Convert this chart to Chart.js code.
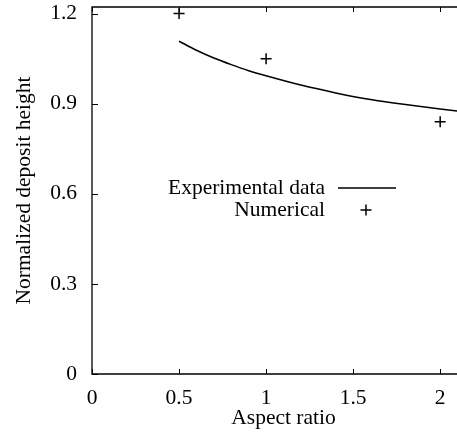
<!DOCTYPE html>
<html>
<head>
<meta charset="utf-8">
<script src="https://cdn.jsdelivr.net/npm/chart.js@4.4.1/dist/chart.umd.min.js"></script>
<style>
  html, body { margin: 0; padding: 0; background: #fff; overflow: hidden; }
  #wrap { width: 482px; height: 441px; }
</style>
</head>
<body>
<div id="wrap"><canvas id="grafico" width="482" height="441"></canvas></div>
<script>
// experimental curve
var expX = [0.5, 0.6, 0.7, 0.8, 0.9, 1.0, 1.2, 1.4, 1.6, 1.8, 2.0, 2.2];
var expY = [1.108, 1.078, 1.052, 1.030, 1.010, 0.993, 0.962, 0.936, 0.914, 0.897, 0.882, 0.869];
// numerical points
var numX = [0.5, 1, 2];
var numY = [1.2, 1.05, 0.84];
// ticks
var xTicks = [0, 0.5, 1, 1.5, 2];
var yTicks = [0, 0.3, 0.6, 0.9, 1.2];
var nomes = ['Experimental data', 'Numerical'];

var fonte = "'Liberation Serif', 'Times New Roman', serif";
var tam = 21.5;

function pares(xs, ys) {
    var out = [];
    for (var i = 0; i < xs.length; i++) out.push({x: xs[i], y: ys[i]});
    return out;
}

// frame + inward ticks, gnuplot style
var moldura = {
    id: 'moldura',
    afterDraw: function (chart) {
        var ctx = chart.ctx;
        var a = chart.chartArea;
        var sx = chart.scales.x, sy = chart.scales.y;
        ctx.save();
        ctx.strokeStyle = '#000';
        ctx.lineWidth = 1.3;
        ctx.beginPath();
        ctx.rect(a.left, a.top, a.right - a.left, a.bottom - a.top);
        ctx.stroke();
        ctx.lineWidth = 1;
        ctx.beginPath();
        sx.ticks.forEach(function (t) {
            var px = Math.round(sx.getPixelForValue(t.value)) + 0.5;
            ctx.moveTo(px, a.bottom); ctx.lineTo(px, a.bottom - 5);
            ctx.moveTo(px, a.top); ctx.lineTo(px, a.top + 5);
        });
        sy.ticks.forEach(function (t) {
            var py = Math.round(sy.getPixelForValue(t.value)) + 0.5;
            ctx.moveTo(a.left, py); ctx.lineTo(a.left + 6, py);
            ctx.moveTo(a.right, py); ctx.lineTo(a.right - 6, py);
        });
        ctx.stroke();
        ctx.restore();
    }
};

// legend: text right aligned, sample on the right
var legenda = {
    id: 'legenda',
    afterDraw: function (chart) {
        var ctx = chart.ctx;
        var xTexto = 325, xAmostra = 366;
        var linhas = [188, 210];
        ctx.save();
        ctx.font = tam + 'px ' + fonte;
        ctx.fillStyle = '#000';
        ctx.textAlign = 'right';
        ctx.textBaseline = 'middle';
        ctx.fillText(nomes[0], xTexto, linhas[0]);
        ctx.fillText(nomes[1], xTexto, linhas[1]);
        ctx.strokeStyle = '#000';
        ctx.lineWidth = 1.5;
        ctx.beginPath();
        ctx.moveTo(338, linhas[0]); ctx.lineTo(396, linhas[0]);
        ctx.moveTo(xAmostra - 5.5, linhas[1]); ctx.lineTo(xAmostra + 5.5, linhas[1]);
        ctx.moveTo(xAmostra, linhas[1] - 5.5); ctx.lineTo(xAmostra, linhas[1] + 5.5);
        ctx.stroke();
        ctx.restore();
    }
};

var grafico = document.getElementById('grafico').getContext('2d');
var criarGrafico = new Chart(grafico, {
    type: 'scatter',
    data: {
        datasets: [{
            label: nomes[0],
            data: pares(expX, expY),
            showLine: true,
            borderColor: '#000',
            borderWidth: 1.5,
            pointRadius: 0,
            cubicInterpolationMode: 'monotone',
            fill: false
        }, {
            label: nomes[1],
            data: pares(numX, numY),
            showLine: false,
            pointStyle: 'cross',
            pointRadius: 5.5,
            borderColor: '#000',
            borderWidth: 1.5,
            clip: false
        }]
    },
    options: {
        responsive: false,
        animation: false,
        layout: { padding: { top: 3, right: 2, left: 0, bottom: 0 } },
        plugins: {
            legend: { display: false },
            tooltip: { enabled: false }
        },
        scales: {
            x: {
                type: 'linear',
                min: 0,
                max: 2.2,
                grid: { display: false, drawTicks: false },
                border: { display: false },
                afterBuildTicks: function (s) { s.ticks = xTicks.map(function (v) { return {value: v}; }); },
                afterFit: function (s) { s.height = 67; s.paddingLeft = 0; s.paddingRight = 0; },
                ticks: {
                    color: '#000',
                    padding: 11,
                    maxRotation: 0,
                    font: { family: fonte, size: tam },
                    callback: function (v) { return String(v); }
                },
                title: {
                    display: true,
                    text: 'Aspect ratio',
                    color: '#000',
                    font: { family: fonte, size: tam },
                    padding: { top: 0, bottom: 10 }
                }
            },
            y: {
                type: 'linear',
                min: 0,
                max: 1.222,
                grid: { display: false, drawTicks: false },
                border: { display: false },
                afterBuildTicks: function (s) { s.ticks = yTicks.map(function (v) { return {value: v}; }); },
                afterFit: function (s) { s.width = 92; s.paddingTop = 0; s.paddingBottom = 0; },
                ticks: {
                    color: '#000',
                    padding: 15,
                    font: { family: fonte, size: tam },
                    callback: function (v) { return String(v); }
                },
                title: {
                    display: true,
                    text: 'Normalized deposit height',
                    color: '#000',
                    font: { family: fonte, size: tam },
                    padding: { top: 11, bottom: 0 }
                }
            }
        }
    },
    plugins: [moldura, legenda]
});
</script>
</body>
</html>
